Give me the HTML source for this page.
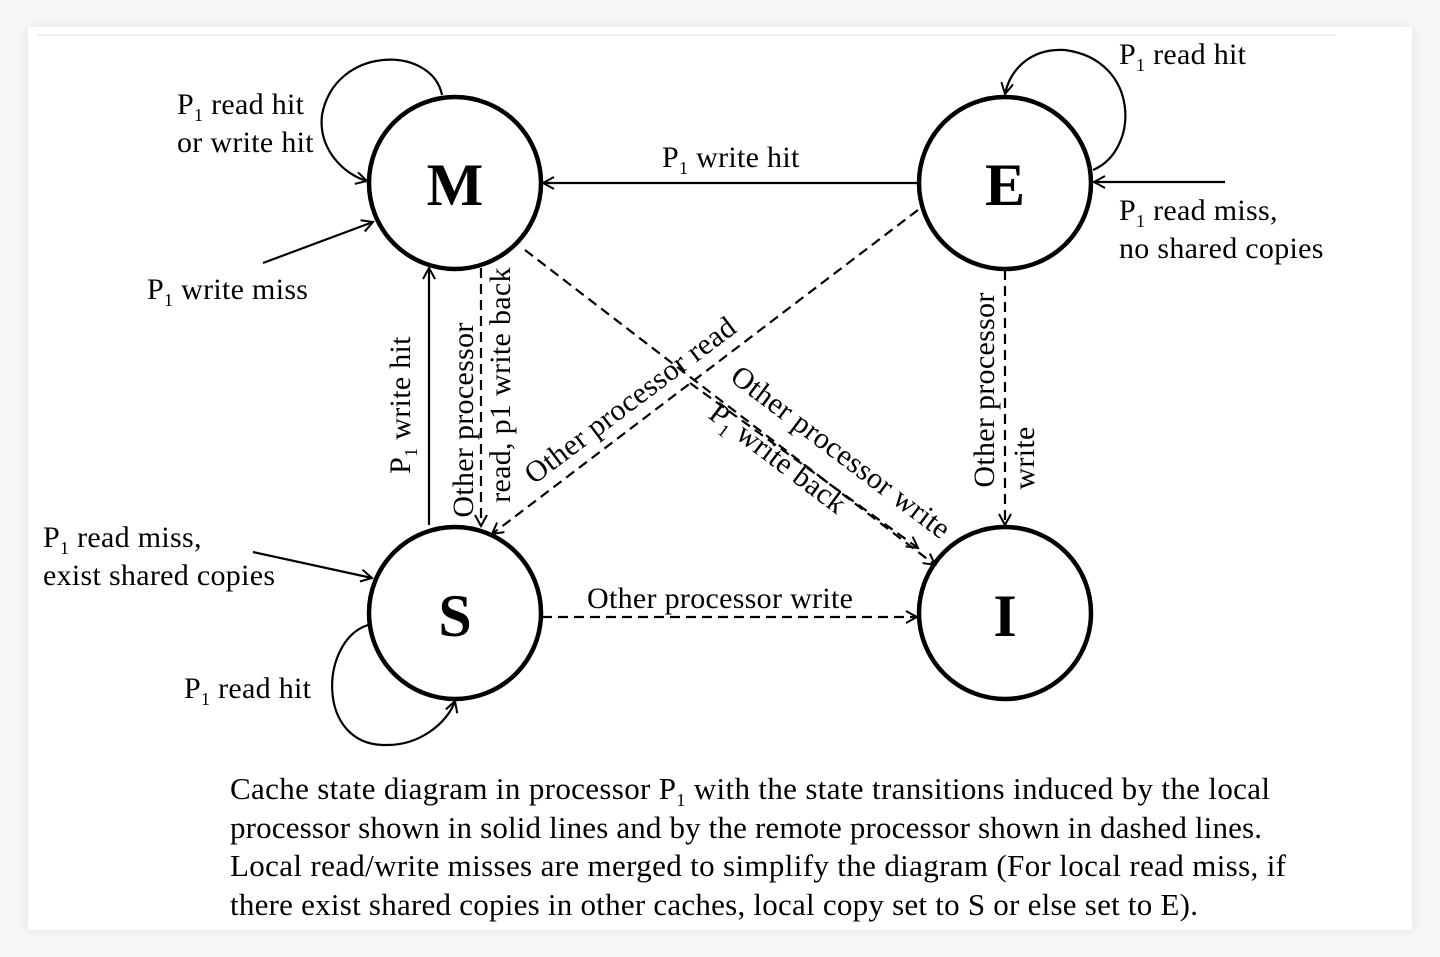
<!DOCTYPE html>
<html><head><meta charset="utf-8"><style>
html,body{margin:0;padding:0;background:#f7f7f7;}
.card{position:absolute;left:28px;top:27px;width:1384px;height:903px;background:#fff;box-shadow:0 0 14px rgba(0,0,0,0.08);}
svg{position:absolute;left:0;top:0;}
text{font-family:"Liberation Serif",serif;font-size:30px;letter-spacing:0.3px;fill:#000;}
.cap{font-size:31px;letter-spacing:0;}
.big{font-size:60px;font-weight:bold;letter-spacing:0;}
.sub{font-size:18px;}
</style></head><body>
<div class="card"></div>
<svg width="1440" height="957" viewBox="0 0 1440 957">
<defs>
<marker id="a" markerWidth="14" markerHeight="14" refX="12" refY="7" orient="auto" markerUnits="userSpaceOnUse">
<polyline points="1,1 12,7 1,13" fill="none" stroke="#000" stroke-width="2"/>
</marker>
</defs>
<line x1="37" y1="35" x2="1335" y2="35" stroke="#eee" stroke-width="2"/>
<g fill="#fff" stroke="#000" stroke-width="4.5">
<circle cx="455" cy="183" r="86"/>
<circle cx="1005" cy="183" r="86"/>
<circle cx="455" cy="613" r="86"/>
<circle cx="1005" cy="613" r="86"/>
</g>
<g text-anchor="middle">
<text class="big" x="455" y="205">M</text>
<text class="big" x="1005" y="205">E</text>
<text class="big" x="455" y="636">S</text>
<text class="big" x="1005" y="636">I</text>
</g>
<g fill="none" stroke="#000" stroke-width="2.2" marker-end="url(#a)">
<line x1="918" y1="183" x2="543" y2="183"/>
<line x1="429" y1="525" x2="429" y2="268"/>
<line x1="263" y1="263" x2="373" y2="222"/>
<line x1="1225" y1="182" x2="1094" y2="182"/>
<line x1="253" y1="552" x2="372" y2="578"/>
<path d="M442,95 C432,45 335,45 322,115 C318,150 345,175 367,181"/>
<path d="M1093,170 C1140,150 1140,60 1065,50 C1030,48 1010,70 1005,94"/>
<path d="M368,625 C320,640 315,745 385,745 C420,746 448,722 455,701"/>
</g>
<g fill="none" stroke="#000" stroke-width="2.2" stroke-dasharray="10,6" marker-end="url(#a)">
<line x1="481" y1="268" x2="481" y2="526"/>
<line x1="918" y1="210" x2="492" y2="534"/>
<line x1="1005" y1="270" x2="1005" y2="525"/>
<line x1="542" y1="617" x2="917" y2="617"/>
<line x1="525" y1="250" x2="935" y2="565"/>
<line x1="690" y1="383" x2="918" y2="548"/>
</g>
<text x="177" y="114">P<tspan class="sub" dy="7">1</tspan><tspan dy="-7"> read hit</tspan></text>
<text x="177" y="152">or write hit</text>
<text x="147" y="299">P<tspan class="sub" dy="7">1</tspan><tspan dy="-7"> write miss</tspan></text>
<text x="662" y="167">P<tspan class="sub" dy="7">1</tspan><tspan dy="-7"> write hit</tspan></text>
<text x="1119" y="64">P<tspan class="sub" dy="7">1</tspan><tspan dy="-7"> read hit</tspan></text>
<text x="1119" y="220">P<tspan class="sub" dy="7">1</tspan><tspan dy="-7"> read miss,</tspan></text>
<text x="1119" y="258">no shared copies</text>
<text x="43" y="547">P<tspan class="sub" dy="7">1</tspan><tspan dy="-7"> read miss,</tspan></text>
<text x="43" y="585">exist shared copies</text>
<text x="184" y="698">P<tspan class="sub" dy="7">1</tspan><tspan dy="-7"> read hit</tspan></text>
<text x="587" y="608">Other processor write</text>
<g text-anchor="middle">
<text transform="translate(410,405) rotate(-90)">P<tspan class="sub" dy="7">1</tspan><tspan dy="-7"> write hit</tspan></text>
<text transform="translate(473,420) rotate(-90)">Other processor</text>
<text transform="translate(510,385) rotate(-90)">read, p1 write back</text>
<text transform="translate(636,408) rotate(-37)">Other processor read</text>
<text transform="translate(835,460) rotate(37)">Other processor write</text>
<text transform="translate(772,466) rotate(37)">P<tspan class="sub" dy="7">1</tspan><tspan dy="-7"> write back</tspan></text>
<text transform="translate(994,390) rotate(-90)">Other processor</text>
<text transform="translate(1034,458) rotate(-90)">write</text>
</g>
<text class="cap" x="230" y="799" textLength="1040" lengthAdjust="spacing">Cache state diagram in processor P<tspan class="sub" dy="7">1</tspan><tspan dy="-7">  with the state transitions induced by the local</tspan></text>
<text class="cap" x="230" y="838" textLength="1032" lengthAdjust="spacing">processor shown in solid lines and by the remote processor shown in dashed lines.</text>
<text class="cap" x="230" y="876" textLength="1056" lengthAdjust="spacing">Local read/write misses are merged to simplify the diagram (For local read miss, if</text>
<text class="cap" x="230" y="915" textLength="968" lengthAdjust="spacing">there exist shared copies in other caches, local copy set to S or else set to E).</text>
</svg>
</body></html>
